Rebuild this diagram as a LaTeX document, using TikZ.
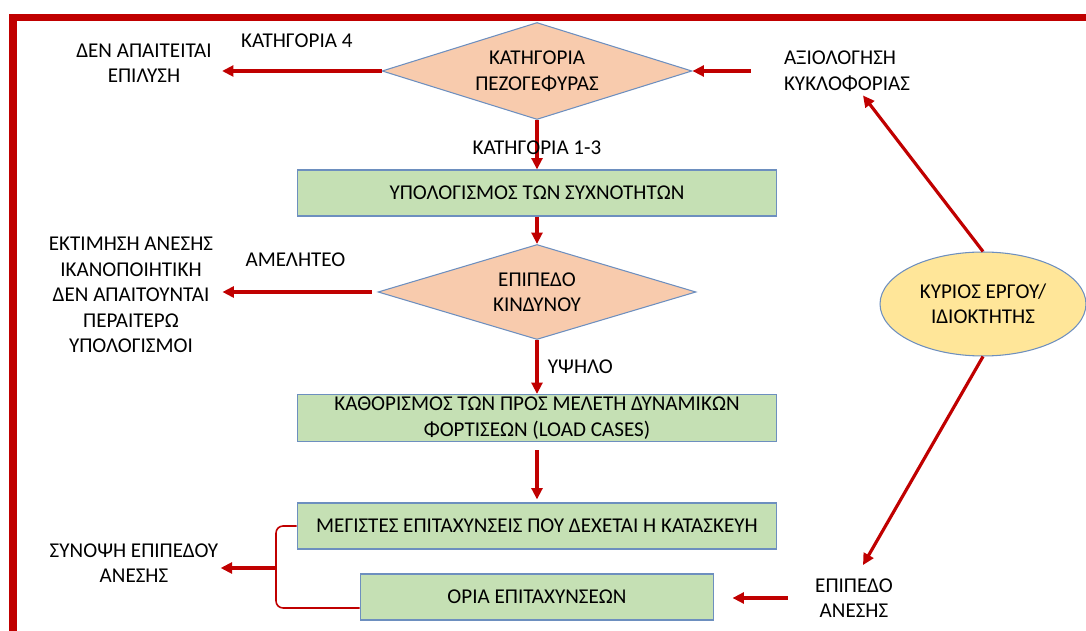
\documentclass[tikz,border=0pt]{standalone}
\usepackage{fontspec}
\setmainfont{Carlito}
\usetikzlibrary{shapes.geometric,arrows.meta}
\definecolor{darkred}{HTML}{C00000}
\definecolor{boxgreen}{HTML}{C5E0B4}
\definecolor{peach}{HTML}{F8CBAD}
\definecolor{gold}{HTML}{FFE699}
\definecolor{outline}{HTML}{6D8FBF}

\begin{document}
\begin{tikzpicture}[x=0.02cm,y=-0.02cm,>={Triangle[length=6.5pt,width=6.2pt]},
    font=\fontsize{12}{14.5}\selectfont]
      \tikzstyle{box}=[rectangle,draw=outline,fill=boxgreen,line width=0.6pt,minimum width=9.6cm,minimum height=0.92cm,inner sep=0pt,align=center]
      \tikzstyle{choice}=[diamond,draw=outline,fill=peach,line width=0.6pt,shape aspect=3.2,inner sep=0pt,align=center]
      \tikzstyle{txt}=[inner sep=0pt,align=center]
      \tikzstyle{flow}=[draw=darkred,line width=1.8pt,->]
      \useasboundingbox (0,0) rectangle (1086,631);
      \draw[darkred,line width=4.5pt] (13,631) -- (13,17.5) -- (1086,17.5);
      % main column
      \node[choice,minimum width=6.2cm,minimum height=1.94cm] at (537,71) (cat) {ΚΑΤΗΓΟΡΙΑ\\ΠΕΖΟΓΕΦΥΡΑΣ};
      \node[box] at (537,193) (freq) {ΥΠΟΛΟΓΙΣΜΟΣ ΤΩΝ ΣΥΧΝΟΤΗΤΩΝ};
      \node[choice,minimum width=6.36cm,minimum height=1.9cm] at (537,292) (risk) {ΕΠΙΠΕΔΟ\\ΚΙΝΔΥΝΟΥ};
      \node[box,minimum height=0.94cm] at (537,418) (cases) {ΚΑΘΟΡΙΣΜΟΣ ΤΩΝ ΠΡΟΣ ΜΕΛΕΤΗ ΔΥΝΑΜΙΚΩΝ\\ΦΟΡΤΙΣΕΩΝ (LOAD CASES)};
      \node[box] at (537,526) (acc) {ΜΕΓΙΣΤΕΣ ΕΠΙΤΑΧΥΝΣΕΙΣ ΠΟΥ ΔΕΧΕΤΑΙ Η ΚΑΤΑΣΚΕΥΗ};
      \node[box,minimum width=7.08cm] at (537,597) (lim) {ΟΡΙΑ ΕΠΙΤΑΧΥΝΣΕΩΝ};
      % side texts
      \node[txt] at (144,63) (nosol) {ΔΕΝ ΑΠΑΙΤΕΙΤΑΙ\\ΕΠΙΛΥΣΗ};
      \node[txt] at (131,295) (ok) {ΕΚΤΙΜΗΣΗ ΑΝΕΣΗΣ\\ΙΚΑΝΟΠΟΙΗΤΙΚΗ\\ΔΕΝ ΑΠΑΙΤΟΥΝΤΑΙ\\ΠΕΡΑΙΤΕΡΩ\\ΥΠΟΛΟΓΙΣΜΟΙ};
      \node[txt] at (134,563) (summ) {ΣΥΝΟΨΗ ΕΠΙΠΕΔΟΥ\\ΑΝΕΣΗΣ};
      \node[txt,align=left] at (847,71) (traffic) {ΑΞΙΟΛΟΓΗΣΗ\\ΚΥΚΛΟΦΟΡΙΑΣ};
      \node[txt] at (854,598) (comf) {ΕΠΙΠΕΔΟ\\ΑΝΕΣΗΣ};
      \node[ellipse,draw=outline,fill=gold,line width=0.6pt,minimum width=4.12cm,minimum height=2.08cm,inner sep=0pt,align=center] at (983,304) (owner) {ΚΥΡΙΟΣ ΕΡΓΟΥ/\\ΙΔΙΟΚΤΗΤΗΣ};
      \coordinate (brace) at (276,568);
      % arrows
      \draw[flow,shorten >=0.2cm] (cat.west) -- (cat.west -| nosol.east) node[midway,above=9pt,text=black]{ΚΑΤΗΓΟΡΙΑ 4};
      \draw[flow,shorten >=0.18cm,shorten <=0.12cm] (risk.west) -- (risk.west -| ok.east) node[midway,above=10pt,text=black]{ΑΜΕΛΗΤΕΟ};
      \draw[flow] (cat.south) -- (freq.north) node[midway,yshift=-0.06cm,text=black]{ΚΑΤΗΓΟΡΙΑ 1-3};
      \foreach \i/\j in {freq/risk}{
        \draw[flow] (\i.south) -- (\j.north);
      }
      \draw[flow] (risk.south) -- (cases.north) node[midway,right=2pt,text=black]{ΥΨΗΛΟ};
      \draw[flow,shorten <=0.16cm,shorten >=0.06cm] (cases.south) -- (acc.north);
      \draw[flow,shorten <=0.66cm] (traffic.west) -- (cat.east);
      \draw[flow] (owner.north) -- ([xshift=0.32cm,yshift=-0.08cm]traffic.south);
      \draw[flow] (owner.south) -- ([xshift=0.18cm,yshift=0.26cm]comf.north);
      \draw[flow,shorten <=0.54cm,shorten >=0.36cm] (comf.west) -- (comf.west -| lim.east);
      \draw[darkred,line width=0.9pt,rounded corners=4pt] (acc.west) -| (brace) |- ([yshift=-0.22cm]lim.west);
      \draw[flow,shorten >=0.04cm] (brace) -- (brace -| summ.east);
    \end{tikzpicture}
\end{document}
